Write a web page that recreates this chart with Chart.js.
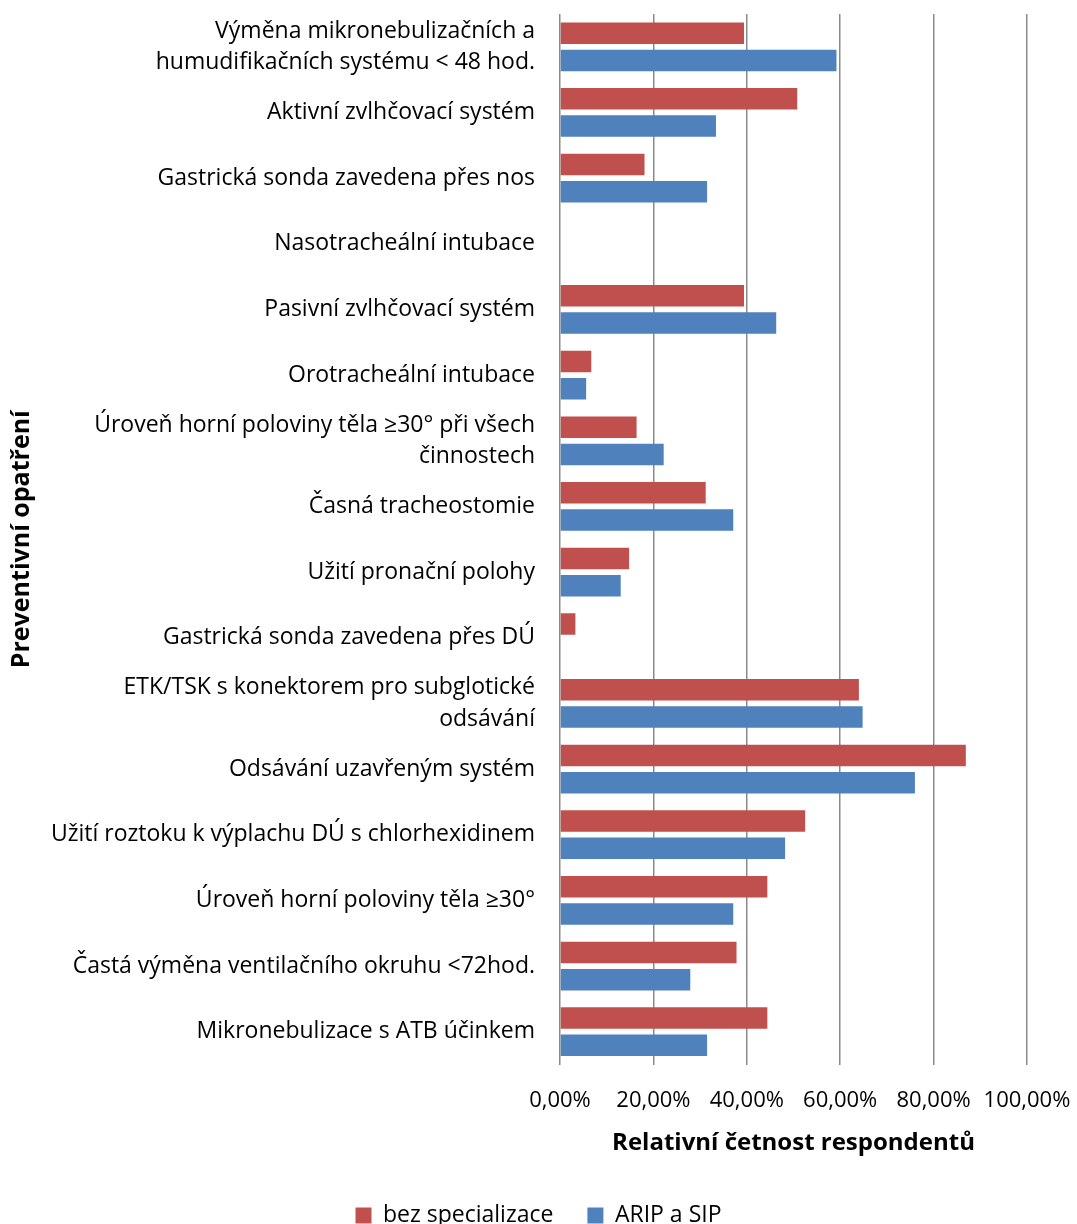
<!DOCTYPE html>
<html>
<head>
<meta charset="utf-8">
<script src="https://cdn.jsdelivr.net/npm/chart.js@4/dist/chart.umd.min.js"></script>
<style>
    html, body { margin: 0; padding: 0; background: #fff; overflow: hidden; }
    #frame { width: 1077px; height: 1224px; overflow: hidden; }
    #holder { position: relative; width: 1077px; height: 1237px; }
</style>
</head>
<body>
<div id="frame"><div id="holder"><canvas id="chart"></canvas></div></div>
<script>
// Categories (top to bottom)
const categories = [
    ["Výměna mikronebulizačních a", "humudifikačních systému < 48 hod."],
    "Aktivní zvlhčovací systém",
    "Gastrická sonda zavedena přes nos",
    "Nasotracheální intubace",
    "Pasivní zvlhčovací systém",
    "Orotracheální intubace",
    ["Úroveň horní poloviny těla ≥30° při všech", "činnostech"],
    "Časná tracheostomie",
    "Užití pronační polohy",
    "Gastrická sonda zavedena přes DÚ",
    ["ETK/TSK s konektorem pro subglotické", "odsávání"],
    "Odsávání uzavřeným systém",
    "Užití roztoku k výplachu DÚ s chlorhexidinem",
    "Úroveň horní poloviny těla ≥30°",
    "Častá výměna ventilačního okruhu <72hod.",
    "Mikronebulizace s ATB účinkem"
];

// Relative frequency (%)
const bezSpecializace = [39.4, 50.8, 18.1, 0, 39.4, 6.7, 16.4, 31.2, 14.8, 3.3, 64.0, 86.9, 52.5, 44.4, 37.8, 44.4];
const aripASip = [59.2, 33.4, 31.5, 0, 46.3, 5.6, 22.2, 37.1, 13.0, 0, 64.8, 76.0, 48.2, 37.1, 27.9, 31.5];

const xTicks = [0, 20, 40, 60, 80, 100];

const fontFamily = "'Open Sans', 'DejaVu Sans', sans-serif";

function formatPercent(value) {
    return value.toFixed(2).replace(".", ",") + "%";
}

function renderChart(canvasId) {
    const ctx = document.getElementById(canvasId).getContext("2d");

    new Chart(ctx, {
        type: "bar",
        data: {
            labels: categories,
            datasets: [{
                label: "bez specializace",
                data: bezSpecializace,
                backgroundColor: "#C0504D",
                borderWidth: 0,
                categoryPercentage: 0.83,
                barPercentage: 0.79
            }, {
                label: "ARIP a SIP",
                data: aripASip,
                backgroundColor: "#4F81BD",
                borderWidth: 0,
                categoryPercentage: 0.83,
                barPercentage: 0.79
            }]
        },
        options: {
            indexAxis: "y",
            responsive: true,
            maintainAspectRatio: false,
            animation: false,
            layout: { padding: { top: 14, left: 0, right: 0, bottom: 0 } },
            plugins: {
                legend: {
                    display: true,
                    position: "bottom",
                    labels: {
                        boxWidth: 16,
                        boxHeight: 16,
                        padding: 34,
                        color: "#000",
                        font: { family: fontFamily, size: 23 }
                    }
                },
                tooltip: { enabled: false }
            },
            scales: {
                x: {
                    min: 0,
                    max: 100,
                    afterBuildTicks: (scale) => {
                        scale.ticks = xTicks.map(v => ({ value: v }));
                    },
                    afterFit: (scale) => {
                        scale.height = 105.5;
                        scale.paddingLeft = 0;
                        scale.paddingRight = 50;
                    },
                    grid: {
                        color: "#8a8a8a",
                        lineWidth: 1.5,
                        drawTicks: false
                    },
                    border: { display: false },
                    ticks: {
                        padding: 23,
                        color: "#000",
                        font: { family: fontFamily, size: 22 },
                        callback: (value) => formatPercent(value)
                    },
                    title: {
                        display: true,
                        text: "Relativní četnost respondentů",
                        color: "#000",
                        font: { family: fontFamily, size: 24, weight: "bold" },
                        padding: { top: 0, bottom: 12 }
                    }
                },
                y: {
                    afterFit: (scale) => {
                        scale.width = 560;
                        scale.paddingTop = 0;
                        scale.paddingBottom = 0;
                    },
                    grid: {
                        display: false,
                        drawTicks: true,
                        tickLength: 22
                    },
                    border: { display: false },
                    ticks: {
                        autoSkip: false,
                        padding: 3,
                        color: "#000",
                        font: { family: fontFamily, size: 23, lineHeight: 1.37 }
                    },
                    title: {
                        display: true,
                        text: "Preventivní opatření",
                        color: "#000",
                        font: { family: fontFamily, size: 25, weight: "bold" },
                        padding: { top: 7, bottom: 0 }
                    }
                }
            }
        }
    });
}

renderChart("chart");
</script>
</body>
</html>
